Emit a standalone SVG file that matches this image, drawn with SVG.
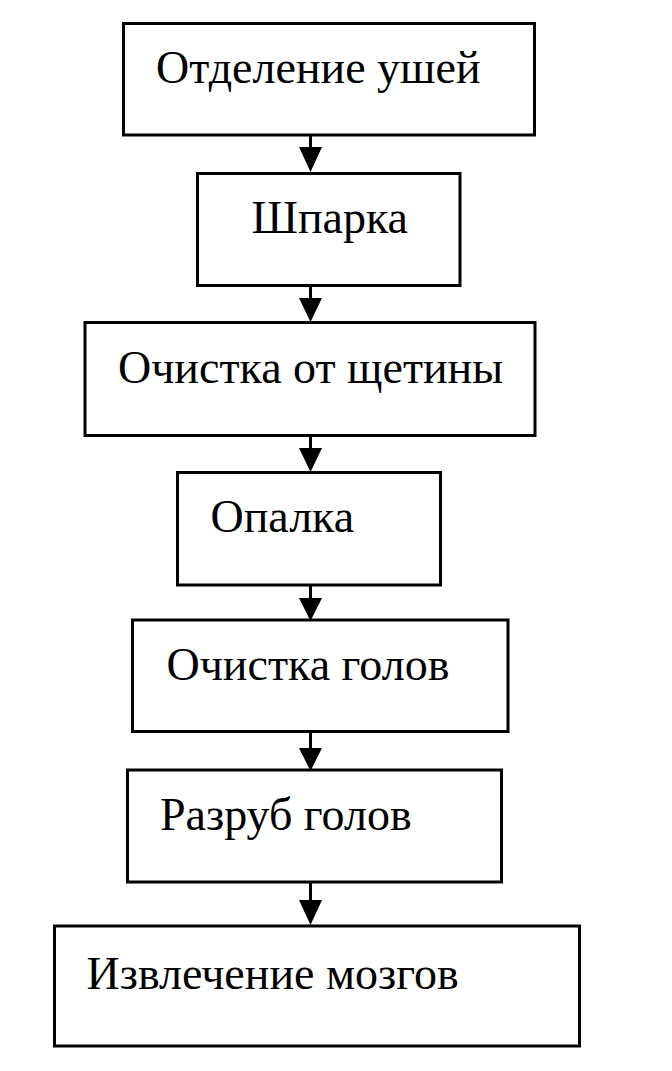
<svg xmlns="http://www.w3.org/2000/svg" width="672" height="1071" viewBox="0 0 672 1071">
<style>
.box{fill:#fff;stroke:#000;stroke-width:3}
.lbl{font-family:"Liberation Serif","Times New Roman",serif;font-size:46px;fill:#000}
.con{stroke:#000;stroke-width:3;fill:none}
.head{fill:#000;stroke:none}
</style>
<rect width="672" height="1071" fill="#fff"/>
<g id="connectors">
<line class="con" x1="310.5" y1="135" x2="310.5" y2="150"/><polygon class="head" points="299,147 322,147 310.5,172"/>
<line class="con" x1="310.5" y1="286" x2="310.5" y2="300"/><polygon class="head" points="299,298 322,298 310.5,322"/>
<line class="con" x1="310.5" y1="436" x2="310.5" y2="450"/><polygon class="head" points="299,448 322,448 310.5,472"/>
<line class="con" x1="310.5" y1="585" x2="310.5" y2="600"/><polygon class="head" points="299,598 322,598 310.5,621"/>
<line class="con" x1="310.5" y1="732" x2="310.5" y2="750"/><polygon class="head" points="299,748 322,748 310.5,771"/>
<line class="con" x1="310.5" y1="882" x2="310.5" y2="902"/><polygon class="head" points="299,900 322,900 310.5,925"/>
</g>
<g id="n1"><rect class="box" x="123.5" y="23.5" width="411" height="111.5"/><text class="lbl" x="156" y="83">Отделение ушей</text></g>
<g id="n2"><rect class="box" x="197.5" y="173.5" width="262.5" height="112"/><text class="lbl" x="251.5" y="233">Шпарка</text></g>
<g id="n3"><rect class="box" x="85" y="322.5" width="450" height="113"/><text class="lbl" x="118" y="383">Очистка от щетины</text></g>
<g id="n4"><rect class="box" x="177.5" y="472.5" width="263" height="112.5"/><text class="lbl" x="210.5" y="532">Опалка</text></g>
<g id="n5"><rect class="box" x="132.5" y="620" width="375.5" height="111.5"/><text class="lbl" x="166.5" y="680">Очистка голов</text></g>
<g id="n6"><rect class="box" x="127.5" y="770" width="374" height="112"/><text class="lbl" x="160" y="830">Разруб голов</text></g>
<g id="n7"><rect class="box" x="54.5" y="926" width="525" height="120"/><text class="lbl" x="86.5" y="989">Извлечение мозгов</text></g>
</svg>
